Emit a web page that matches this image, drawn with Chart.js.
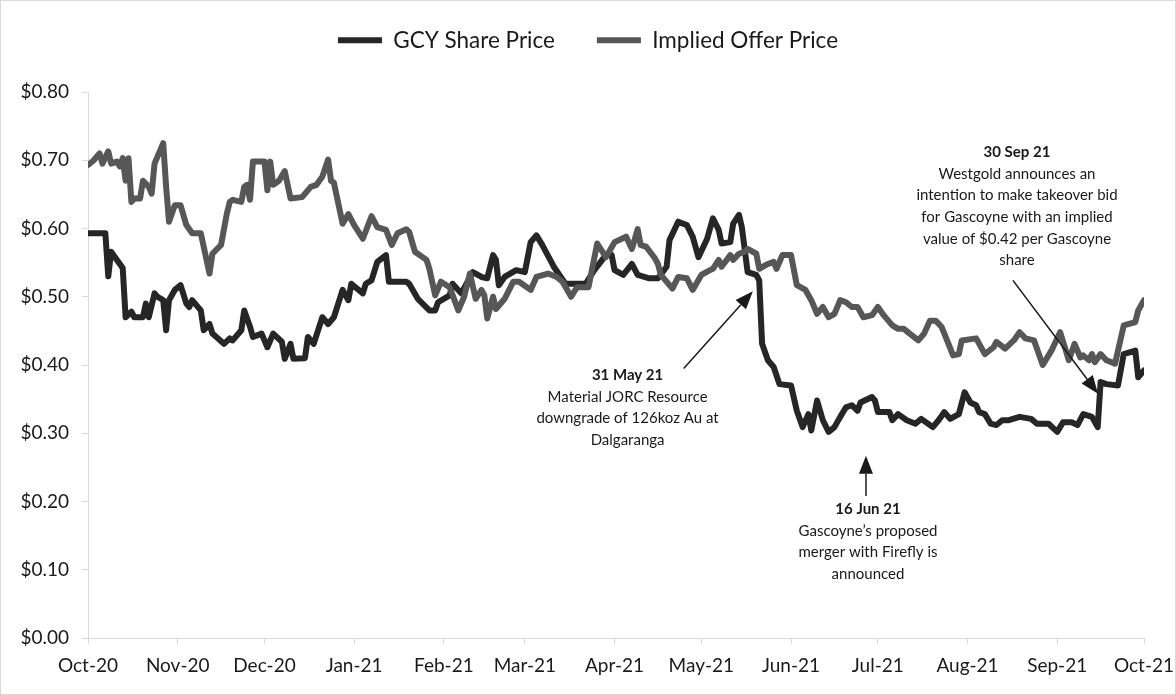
<!DOCTYPE html>
<html>
<head>
<meta charset="utf-8">
<script src="https://cdn.jsdelivr.net/npm/chart.js@4.4.1/dist/chart.umd.min.js"></script>
<style>
  html, body { margin: 0; padding: 0; background: #fff; }
  .frame { width: 1176px; height: 695px; box-sizing: border-box; border: 1px solid #d9d9d9; }
  canvas { display: block; }
</style>
</head>
<body>
<div class="frame"><canvas id="chart" width="1174" height="693"></canvas></div>
<script>
// days counted from 1 Oct 2020
const START = Date.UTC(2020, 9, 1);

const tickLabels = ['Oct-20', 'Nov-20', 'Dec-20', 'Jan-21', 'Feb-21', 'Mar-21', 'Apr-21',
                    'May-21', 'Jun-21', 'Jul-21', 'Aug-21', 'Sep-21', 'Oct-21'];
const yTicks = [0, 0.1, 0.2, 0.3, 0.4, 0.5, 0.6, 0.7, 0.8];

const gcyDays = [0, 6, 7, 8, 10, 12, 13, 15, 16, 19, 20, 21, 23, 24, 26, 27, 28, 30, 32, 34,
  35, 36, 39, 40, 42, 43, 47, 49, 50, 53, 54, 56, 57, 60, 62, 64, 67, 68, 70, 71,
  75, 76, 78, 81, 83, 85, 88, 90, 91, 95, 96, 98, 100, 103, 104, 110, 111, 114, 118, 120,
  121, 125, 126, 129, 133, 136, 138, 140, 141, 142, 144, 148, 151, 153, 155, 157, 161, 165, 172, 175,
  179, 181, 182, 185, 188, 190, 194, 197, 200, 201, 204, 207, 209, 211, 214, 216, 218, 219, 222, 223,
  225, 226, 228, 231, 232, 233, 235, 237, 239, 243, 245, 247, 249, 250, 252, 254, 256, 258, 260, 262,
  264, 266, 267, 271, 272, 273, 277, 278, 280, 283, 286, 288, 292, 294, 296, 298, 301, 303, 305, 307,
  308, 310, 312, 314, 316, 318, 322, 326, 328, 332, 335, 337, 340, 342, 344, 347, 349, 350, 352, 356,
  358, 362, 363, 365];
const gcyPrice = [0.593, 0.593, 0.530, 0.566, 0.554, 0.542, 0.470, 0.478, 0.470, 0.470, 0.490, 0.470, 0.505, 0.500, 0.495, 0.451, 0.495, 0.510, 0.517, 0.490,
  0.485, 0.495, 0.480, 0.451, 0.460, 0.446, 0.431, 0.439, 0.436, 0.451, 0.480, 0.456, 0.441, 0.446, 0.426, 0.446, 0.434, 0.409, 0.431, 0.409,
  0.410, 0.441, 0.431, 0.470, 0.460, 0.470, 0.510, 0.495, 0.519, 0.505, 0.519, 0.524, 0.551, 0.561, 0.522, 0.522, 0.519, 0.497, 0.480, 0.480,
  0.492, 0.502, 0.519, 0.505, 0.536, 0.529, 0.527, 0.561, 0.554, 0.517, 0.529, 0.539, 0.536, 0.580, 0.590, 0.576, 0.544, 0.519, 0.519, 0.539,
  0.561, 0.561, 0.539, 0.532, 0.548, 0.532, 0.527, 0.527, 0.544, 0.583, 0.610, 0.605, 0.588, 0.558, 0.585, 0.615, 0.598, 0.578, 0.580, 0.607,
  0.620, 0.602, 0.536, 0.532, 0.524, 0.431, 0.407, 0.397, 0.372, 0.370, 0.333, 0.309, 0.328, 0.304, 0.348, 0.319, 0.302, 0.309, 0.324, 0.338,
  0.341, 0.333, 0.345, 0.353, 0.348, 0.331, 0.331, 0.319, 0.328, 0.319, 0.314, 0.321, 0.309, 0.319, 0.331, 0.321, 0.328, 0.360, 0.345, 0.341,
  0.331, 0.328, 0.314, 0.312, 0.319, 0.319, 0.324, 0.321, 0.314, 0.314, 0.302, 0.316, 0.316, 0.312, 0.328, 0.324, 0.309, 0.375, 0.372, 0.370,
  0.416, 0.421, 0.382, 0.392];

const offerDays = [0, 2, 4, 5, 7, 8, 10, 11, 12, 13, 14, 15, 16, 18, 19, 21, 22, 23, 26, 27,
  28, 30, 32, 34, 36, 39, 42, 43, 46, 48, 49, 50, 53, 54, 55, 56, 57, 61, 62, 63,
  64, 66, 68, 70, 74, 77, 79, 81, 83, 84, 85, 88, 90, 92, 95, 98, 100, 103, 105, 107,
  110, 111, 113, 117, 118, 120, 122, 125, 128, 130, 132, 134, 136, 137, 138, 140, 141, 144, 147, 149,
  153, 155, 159, 162, 164, 167, 169, 173, 176, 179, 182, 186, 188, 190, 191, 193, 196, 197, 198, 202,
  204, 207, 209, 212, 215, 216, 218, 219, 222, 223, 225, 227, 228, 231, 232, 235, 237, 238, 240, 243,
  245, 248, 250, 252, 254, 256, 258, 260, 262, 264, 266, 268, 271, 273, 275, 278, 280, 282, 284, 287,
  289, 291, 293, 295, 296, 299, 301, 302, 307, 310, 313, 314, 317, 320, 322, 324, 327, 330, 333, 336,
  338, 339, 341, 343, 344, 346, 347, 348, 350, 352, 355, 358, 362, 363, 365];
const offerPrice = [0.693, 0.700, 0.710, 0.695, 0.713, 0.695, 0.698, 0.691, 0.703, 0.670, 0.703, 0.639, 0.644, 0.644, 0.670, 0.661, 0.651, 0.695, 0.725, 0.661,
  0.610, 0.634, 0.634, 0.605, 0.593, 0.593, 0.534, 0.563, 0.576, 0.622, 0.639, 0.642, 0.639, 0.661, 0.664, 0.642, 0.698, 0.698, 0.656, 0.698,
  0.664, 0.670, 0.684, 0.644, 0.646, 0.661, 0.664, 0.676, 0.701, 0.670, 0.667, 0.607, 0.621, 0.605, 0.585, 0.618, 0.602, 0.598, 0.576, 0.593,
  0.599, 0.595, 0.566, 0.554, 0.541, 0.502, 0.522, 0.514, 0.480, 0.500, 0.534, 0.497, 0.510, 0.502, 0.468, 0.500, 0.482, 0.497, 0.522, 0.522,
  0.510, 0.529, 0.534, 0.529, 0.522, 0.500, 0.514, 0.514, 0.578, 0.558, 0.580, 0.588, 0.570, 0.599, 0.576, 0.573, 0.556, 0.548, 0.532, 0.512,
  0.529, 0.527, 0.510, 0.532, 0.539, 0.541, 0.554, 0.544, 0.561, 0.554, 0.563, 0.566, 0.570, 0.563, 0.541, 0.548, 0.551, 0.541, 0.561, 0.561,
  0.517, 0.510, 0.495, 0.475, 0.485, 0.470, 0.475, 0.495, 0.492, 0.485, 0.485, 0.470, 0.473, 0.485, 0.473, 0.458, 0.453, 0.453, 0.446, 0.436,
  0.446, 0.465, 0.465, 0.456, 0.446, 0.414, 0.416, 0.436, 0.439, 0.416, 0.426, 0.434, 0.424, 0.436, 0.448, 0.439, 0.436, 0.400, 0.421, 0.448,
  0.421, 0.407, 0.431, 0.411, 0.414, 0.407, 0.416, 0.404, 0.416, 0.407, 0.402, 0.458, 0.463, 0.480, 0.495];

// annotation text and arrows, positioned in data units (day, price)
const notes = [
  { title: '31 May 21', lines: ['Material JORC Resource', 'downgrade of 126koz Au at', 'Dalgaranga'],
    at: [186.5, 0.385], from: [205.9, 0.395], to: [229.8, 0.508] },
  { title: '16 Jun 21', lines: ['Gascoyne\u2019s proposed', 'merger with Firefly is', 'announced'],
    at: [269.6, 0.189], from: [268.9, 0.208], to: [268.9, 0.267] },
  { title: '30 Sep 21', lines: ['Westgold announces an', 'intention to make takeover bid', 'for Gascoyne with an implied', 'value of $0.42 per Gascoyne', 'share'],
    at: [321.1, 0.712], from: [319.7, 0.524], to: [349.1, 0.358] },
];

const monthDays = tickLabels.map((_, i) => (Date.UTC(2020, 9 + i, 1) - START) / 86400000);
const toPoints = (xs, ys) => xs.map((x, i) => ({ x, y: ys[i] }));

const FONT = "Lato, 'Open Sans', sans-serif";
const colorGcy = '#262626';
const colorOffer = '#575757';
const colorAxis = '#d9d9d9';
const colorText = '#1a1a1a';

// legend sits higher than its padding would put it; the plot starts at a fixed top
const legendPlace = {
  id: 'legendPlace',
  beforeInit(chart) {
    const fit = chart.legend.fit;
    chart.legend.fit = function () {
      fit.call(this);
      this.height = 91;
    };
  },
  afterLayout(chart) {
    chart.legend.top -= 14;
  },
};

const notesPlugin = {
  id: 'notes',
  afterDatasetsDraw(chart) {
    const { ctx, scales: { x, y } } = chart;
    ctx.save();
    ctx.fillStyle = colorText;
    ctx.strokeStyle = colorText;
    ctx.textAlign = 'center';
    ctx.textBaseline = 'middle';
    notes.forEach((n) => {
      const cx = x.getPixelForValue(n.at[0]);
      let cy = y.getPixelForValue(n.at[1]);
      ctx.font = 'bold 15px ' + FONT;
      ctx.fillText(n.title, cx, cy);
      ctx.font = '15px ' + FONT;
      n.lines.forEach((t) => {
        cy += 21.7;
        ctx.fillText(t, cx, cy);
      });

      const x0 = x.getPixelForValue(n.from[0]), y0 = y.getPixelForValue(n.from[1]);
      const x1 = x.getPixelForValue(n.to[0]), y1 = y.getPixelForValue(n.to[1]);
      const ang = Math.atan2(y1 - y0, x1 - x0);
      const head = 18, half = 7;
      const bx = x1 - Math.cos(ang) * head, by = y1 - Math.sin(ang) * head;
      ctx.lineWidth = 1.5;
      ctx.beginPath();
      ctx.moveTo(x0, y0);
      ctx.lineTo(bx, by);
      ctx.stroke();
      ctx.beginPath();
      ctx.moveTo(x1, y1);
      ctx.lineTo(bx + Math.sin(ang) * half, by - Math.cos(ang) * half);
      ctx.lineTo(bx - Math.sin(ang) * half, by + Math.cos(ang) * half);
      ctx.closePath();
      ctx.fill();
    });
    ctx.restore();
  },
};

new Chart(document.getElementById('chart'), {
  type: 'line',
  data: {
    datasets: [
      {
        label: 'GCY Share Price',
        data: toPoints(gcyDays, gcyPrice),
        borderColor: colorGcy,
        backgroundColor: colorGcy,
        borderWidth: 6,
        order: 1,
      },
      {
        label: 'Implied Offer Price',
        data: toPoints(offerDays, offerPrice),
        borderColor: colorOffer,
        backgroundColor: colorOffer,
        borderWidth: 6,
        order: 0,
      },
    ],
  },
  options: {
    responsive: false,
    animation: false,
    layout: { padding: 0 },
    elements: {
      point: { radius: 0, hoverRadius: 0 },
      line: { tension: 0, borderJoinStyle: 'round', borderCapStyle: 'round' },
    },
    plugins: {
      tooltip: { enabled: false },
      legend: {
        position: 'top',
        labels: {
          color: colorText,
          font: { family: FONT, size: 22.5 },
          usePointStyle: true,
          pointStyle: 'line',
          pointStyleWidth: 44,
          padding: 42,
          sort: (a, b) => a.datasetIndex - b.datasetIndex,
        },
      },
    },
    scales: {
      x: {
        type: 'linear',
        min: 0,
        max: 365,
        afterBuildTicks: (scale) => { scale.ticks = monthDays.map((v) => ({ value: v })); },
        afterFit: (scale) => {
          scale.height = 56;
          scale.paddingRight = 31;
        },
        ticks: {
          color: colorText,
          font: { family: FONT, size: 19 },
          padding: 10,
          maxRotation: 0,
          autoSkip: false,
          callback: (v) => tickLabels[monthDays.indexOf(v)],
        },
        grid: { drawOnChartArea: false, tickLength: 6, color: colorAxis },
        border: { color: colorAxis, width: 1 },
      },
      y: {
        min: 0,
        max: 0.8,
        afterBuildTicks: (scale) => { scale.ticks = yTicks.map((v) => ({ value: v })); },
        afterFit: (scale) => { scale.width = 87; },
        ticks: {
          color: colorText,
          font: { family: FONT, size: 19 },
          padding: 13,
          callback: (v) => '$' + v.toFixed(2),
        },
        grid: { drawOnChartArea: false, tickLength: 6, color: colorAxis },
        border: { color: colorAxis, width: 1 },
      },
    },
  },
  plugins: [legendPlace, notesPlugin],
});
</script>
</body>
</html>
